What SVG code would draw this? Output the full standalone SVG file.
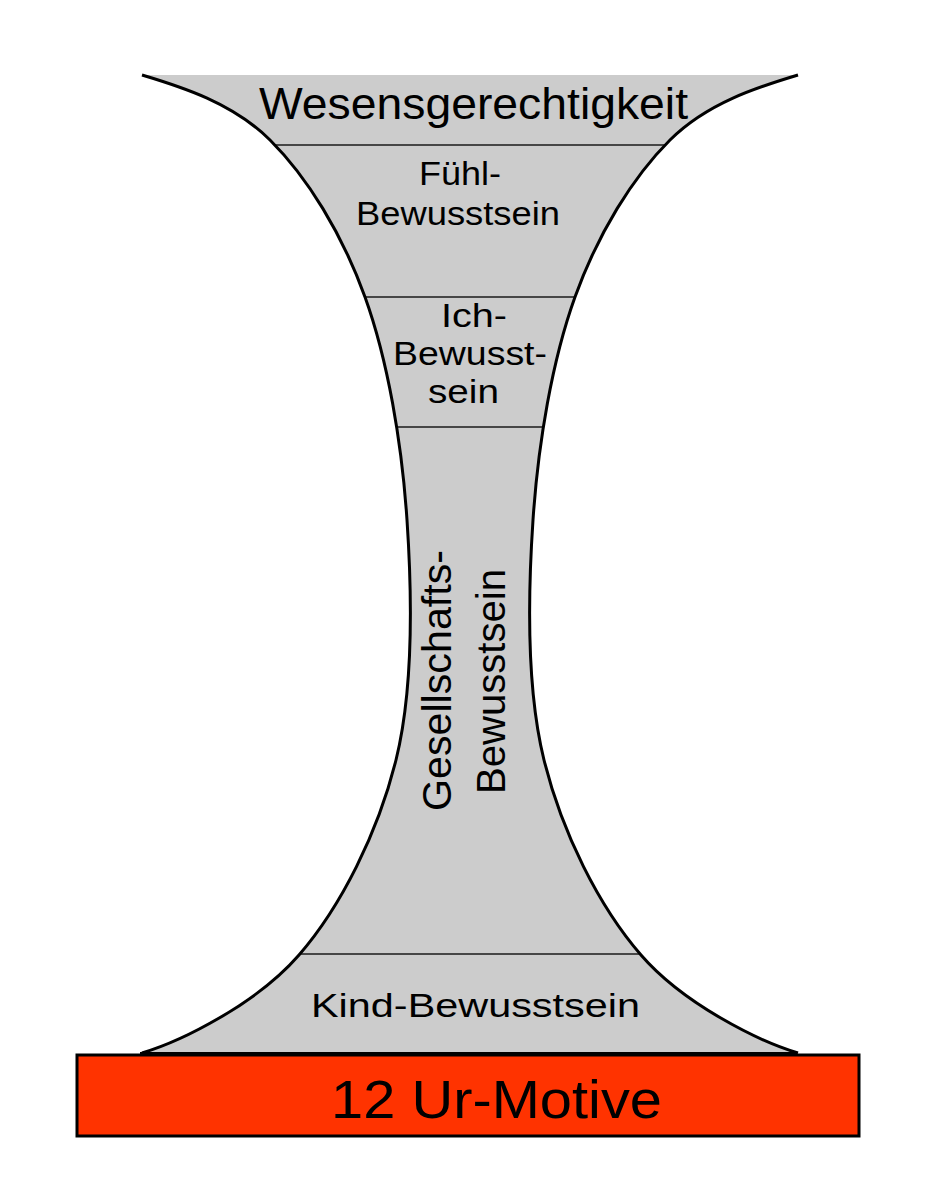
<svg xmlns="http://www.w3.org/2000/svg" width="925" height="1185" viewBox="0 0 925 1185">
  <defs>
    <style>
      .lbl { font-family: "Liberation Sans", Arial, Helvetica, sans-serif; fill: #000; }
      .curve { fill: none; stroke: #000; stroke-width: 3; }
      .div { stroke: #1a1a1a; stroke-width: 1.5; }
    </style>
    <clipPath id="shapeClip">
      <path d="M142,75 C182,87 232.8,103 270,140 C307.2,177 342.2,233.7 365,297 C387.8,360.3 401.8,442.8 407,520 C412.2,597.2 414,687.5 396,760 C378,832.5 341.3,906.2 299,955 C256.7,1003.8 182,1041 142,1053 L798,1053 C758,1041 683.3,1003.8 641,955 C598.7,906.2 562,832.5 544,760 C526,687.5 527.8,597.2 533,520 C538.2,442.8 552.2,360.3 575,297 C597.8,233.7 632.8,177 670,140 C707.2,103 758,87 798,75 Z"/>
    </clipPath>
  </defs>
  <rect width="925" height="1185" fill="#fff"/>

  <g id="hourglass">
    <path d="M142,75 C182,87 232.8,103 270,140 C307.2,177 342.2,233.7 365,297 C387.8,360.3 401.8,442.8 407,520 C412.2,597.2 414,687.5 396,760 C378,832.5 341.3,906.2 299,955 C256.7,1003.8 182,1041 142,1053 L798,1053 C758,1041 683.3,1003.8 641,955 C598.7,906.2 562,832.5 544,760 C526,687.5 527.8,597.2 533,520 C538.2,442.8 552.2,360.3 575,297 C597.8,233.7 632.8,177 670,140 C707.2,103 758,87 798,75 Z" fill="#cccccc"/>
    <g clip-path="url(#shapeClip)">
      <line class="div" x1="100" y1="145" x2="840" y2="145"/>
      <line class="div" x1="100" y1="297" x2="840" y2="297"/>
      <line class="div" x1="100" y1="427" x2="840" y2="427"/>
      <line class="div" x1="100" y1="954" x2="840" y2="954"/>
    </g>
    <path class="curve" d="M142,75 C182,87 232.8,103 270,140 C307.2,177 342.2,233.7 365,297 C387.8,360.3 401.8,442.8 407,520 C412.2,597.2 414,687.5 396,760 C378,832.5 341.3,906.2 299,955 C256.7,1003.8 182,1041 142,1053"/>
    <path class="curve" d="M798,1053 C758,1041 683.3,1003.8 641,955 C598.7,906.2 562,832.5 544,760 C526,687.5 527.8,597.2 533,520 C538.2,442.8 552.2,360.3 575,297 C597.8,233.7 632.8,177 670,140 C707.2,103 758,87 798,75"/>
    <line x1="140" y1="1053" x2="796" y2="1053" stroke="#000" stroke-width="2"/>
  </g>

  <g id="wesensgerechtigkeit">
    <text class="lbl" x="259" y="119" font-size="44" textLength="429" lengthAdjust="spacingAndGlyphs">Wesensgerechtigkeit</text>
  </g>

  <g id="fuehl-bewusstsein">
    <text class="lbl" x="419" y="185" font-size="32.5" textLength="82" lengthAdjust="spacingAndGlyphs">Fühl-</text>
    <text class="lbl" x="356" y="225" font-size="32.5" textLength="204" lengthAdjust="spacingAndGlyphs">Bewusstsein</text>
  </g>

  <g id="ich-bewusstsein">
    <text class="lbl" x="441" y="327" font-size="32.5" textLength="66" lengthAdjust="spacingAndGlyphs">Ich-</text>
    <text class="lbl" x="393" y="365" font-size="32.5" textLength="154" lengthAdjust="spacingAndGlyphs">Bewusst-</text>
    <text class="lbl" x="428" y="403" font-size="32.5" textLength="71" lengthAdjust="spacingAndGlyphs">sein</text>
  </g>

  <g id="gesellschafts-bewusstsein">
    <text class="lbl" transform="translate(451,811) rotate(-90)" font-size="40" textLength="261" lengthAdjust="spacingAndGlyphs">Gesellschafts-</text>
    <text class="lbl" transform="translate(505,794) rotate(-90)" font-size="40" textLength="225" lengthAdjust="spacingAndGlyphs">Bewusstsein</text>
  </g>

  <g id="kind-bewusstsein">
    <text class="lbl" x="311" y="1017" font-size="33" textLength="329" lengthAdjust="spacingAndGlyphs">Kind-Bewusstsein</text>
  </g>

  <g id="ur-motive">
    <rect x="77" y="1055" width="782" height="81" fill="#ff3300" stroke="#000" stroke-width="3"/>
    <text class="lbl" x="331" y="1118" font-size="53" textLength="331" lengthAdjust="spacingAndGlyphs">12 Ur-Motive</text>
  </g>
</svg>
